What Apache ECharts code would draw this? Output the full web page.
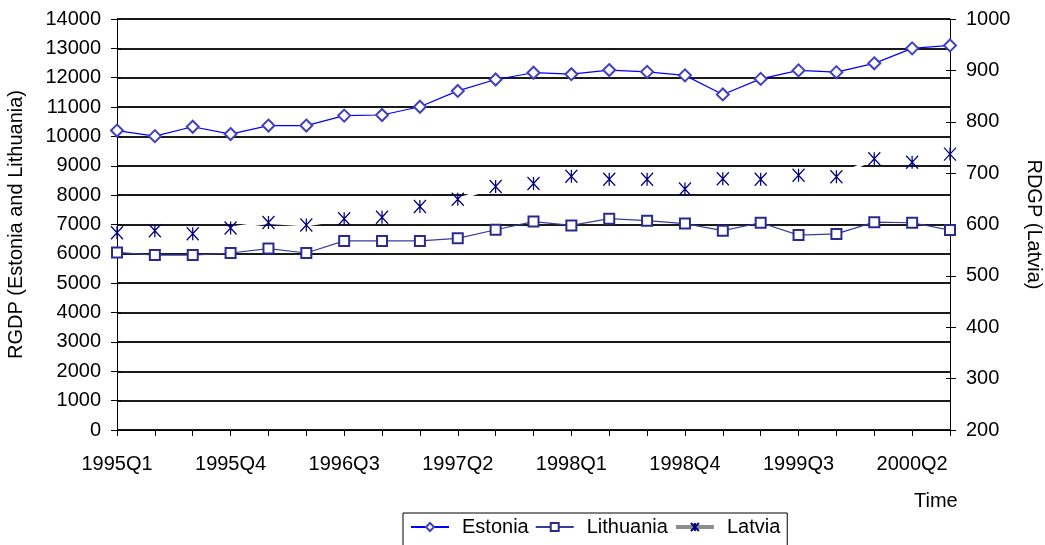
<!DOCTYPE html>
<html><head><meta charset="utf-8">
<script src="https://cdn.jsdelivr.net/npm/echarts@6/dist/echarts.min.js"></script>
<style>html,body{margin:0;padding:0;background:#fff}#c{width:1045px;height:545px}</style>
</head><body><div id="c"></div>
<script>
const categories = ['1995Q1','1995Q2','1995Q3','1995Q4','1996Q1','1996Q2','1996Q3','1996Q4',
  '1997Q1','1997Q2','1997Q3','1997Q4','1998Q1','1998Q2','1998Q3','1998Q4',
  '1999Q1','1999Q2','1999Q3','1999Q4','2000Q1','2000Q2','2000Q3'];
const estonia = [10200,10010,10330,10080,10370,10370,10710,10730,11010,11550,11940,12170,12120,12260,12200,12080,11430,11960,12250,12190,12490,13000,13100];
const lithuania = [6050,5960,5960,6030,6180,6030,6440,6440,6440,6530,6820,7100,6970,7200,7130,7030,6790,7060,6640,6680,7080,7060,6810];
const latvia = [584,588,582,593,604,599,611,614,635,649,674,680,694,688,688,669,689,688,696,693,728,721,737];

const F = 'Arial, "Liberation Sans", sans-serif';
const FS = 20;
const plain = v => String(v);
const overlay = (min, max, interval, position) => ({
  type: 'value', min, max, interval, position,
  axisLine: {show: false}, axisLabel: {show: false}, splitLine: {show: false},
  axisTick: {show: true, inside: true, length: 4, lineStyle: {color: '#000'}}
});
const chart = echarts.init(document.getElementById('c'), null, {renderer:'canvas'});
chart.setOption({
  animation: false,
  backgroundColor: '#fff',
  textStyle: {fontFamily: F},
  grid: {left: 117, right: 95, top: 19, bottom: 115, containLabel: false, outerBoundsMode: 'none'},
  legend: {
    left: 403, top: 513,
    padding: [4, 7, 12, 7],
    borderColor: '#000', borderWidth: 1,
    itemWidth: 38, itemHeight: 10, itemGap: 6,
    textStyle: {fontFamily: F, fontSize: FS, color: '#000', padding: [0,0,0,8]},
    data: [
      {name: 'Estonia'},
      {name: 'Lithuania'},
      {name: 'Latvia', lineStyle: {color: '#8c8c8c', width: 4}}
    ]
  },
  graphic: [{
    type: 'text', left: 914, top: 491,
    style: {text: 'Time', font: FS + 'px ' + F, fill: '#000'}
  }],
  xAxis: {
    type: 'category', data: categories, boundaryGap: false,
    axisLine: {onZero: false, lineStyle: {color: '#000', width: 1}},
    axisTick: {show: true, interval: 0, length: 6, lineStyle: {color: '#000'}},
    axisLabel: {interval: 2, margin: 24, fontFamily: F, fontSize: FS, color: '#000'},
    splitLine: {show: false}
  },
  yAxis: [{
    type: 'value', min: 0, max: 14000, interval: 1000, position: 'left',
    name: 'RGDP (Estonia and Lithuania)', nameLocation: 'middle', nameGap: 91, nameRotate: 90,
    nameTextStyle: {fontFamily: F, fontSize: FS, color: '#000'},
    axisLine: {show: true, lineStyle: {color: '#000', width: 1}},
    axisTick: {show: true, length: 6, lineStyle: {color: '#000'}},
    axisLabel: {margin: 16, fontFamily: F, fontSize: FS, color: '#000', formatter: plain},
    splitLine: {show: true, lineStyle: {color: '#1a1a1a', width: 2}}
  }, {
    type: 'value', min: 200, max: 1000, interval: 100, position: 'right',
    name: 'RDGP (Latvia)', nameLocation: 'middle', nameGap: 74, nameRotate: -90,
    nameTextStyle: {fontFamily: F, fontSize: FS, color: '#000'},
    axisLine: {show: true, lineStyle: {color: '#000', width: 1}},
    axisTick: {show: true, length: 6, lineStyle: {color: '#000'}},
    axisLabel: {margin: 16, fontFamily: F, fontSize: FS, color: '#000', formatter: plain},
    splitLine: {show: false}
  },
  overlay(0, 14000, 1000, 'left'),
  overlay(200, 1000, 100, 'right')],
  series: [{
    name: 'Estonia', type: 'line', yAxisIndex: 0, data: estonia,
    symbol: 'emptyDiamond', symbolSize: [12, 12], showSymbol: true,
    lineStyle: {color: '#0000ff', width: 1.2},
    itemStyle: {color: '#4040c0', borderColor: '#4040c0', borderWidth: 1.2}
  }, {
    name: 'Lithuania', type: 'line', yAxisIndex: 0, data: lithuania,
    symbol: 'emptyRect', symbolSize: 10, showSymbol: true,
    lineStyle: {color: '#3a3aa0', width: 1.2},
    itemStyle: {color: '#2a2a90', borderColor: '#2a2a90', borderWidth: 1.3}
  }, {
    name: 'Latvia', type: 'line', yAxisIndex: 1, data: latvia,
    symbol: 'path://M0,0L10,12M10,0L0,12M5,0L5,12', symbolSize: [12, 13], showSymbol: true,
    lineStyle: {color: '#ffffff', width: 3},
    itemStyle: {color: 'rgba(0,0,0,0)', borderColor: '#000080', borderWidth: 1.3}
  }]
});
</script></body></html>
